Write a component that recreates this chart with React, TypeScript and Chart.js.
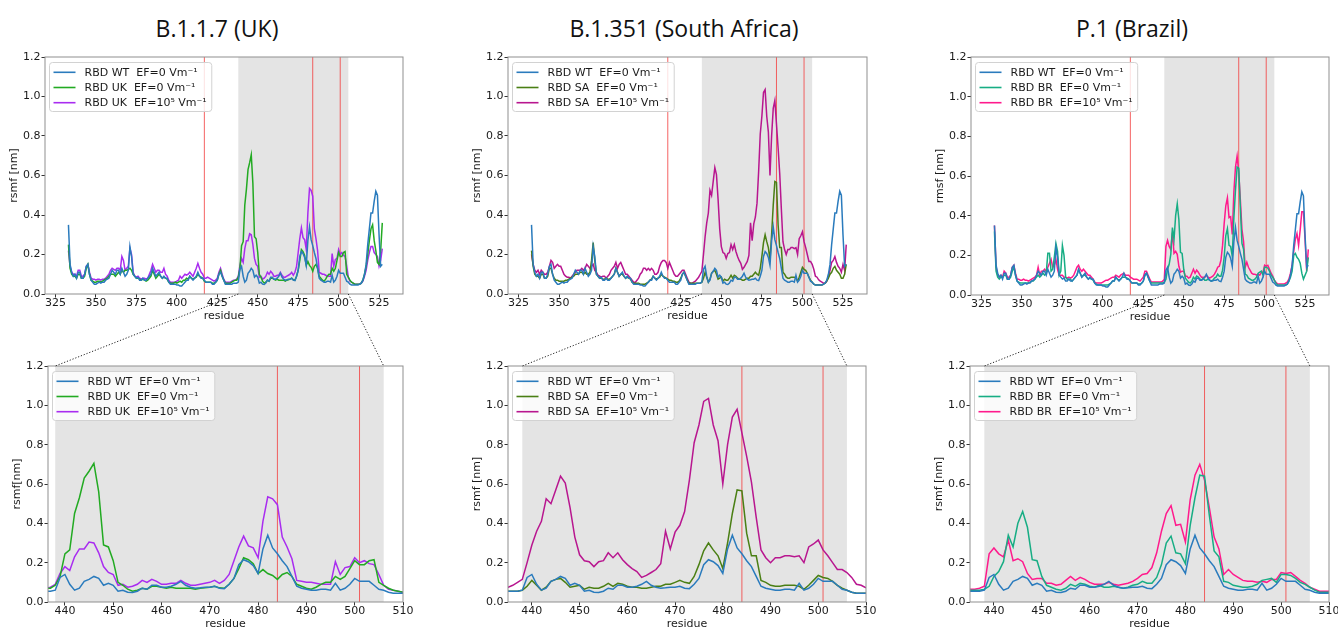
import React, { useEffect, useRef } from 'react';
import { Chart, registerables } from 'chart.js';

Chart.register(...registerables);

// ---------- data (rmsf in nm, one value per residue starting at 333) ----------
const RES_START = 333;

const WT = [
  0.35,0.15,0.11,0.09,0.10,0.08,0.11,0.11,0.08,0.08,
  0.10,0.14,0.15,0.10,0.07,0.06,0.05,0.05,0.055,0.06,
  0.055,0.06,0.06,0.07,0.075,0.08,0.10,0.12,0.11,0.10,
  0.12,0.12,0.10,0.13,0.11,0.09,0.10,0.12,0.24,0.19,
  0.10,0.09,0.08,0.085,0.07,0.07,0.08,0.07,0.07,0.08,
  0.09,0.10,0.13,0.11,0.09,0.10,0.11,0.09,0.08,0.09,
  0.08,0.08,0.06,0.05,0.05,0.05,0.05,0.045,0.045,0.04,
  0.04,0.05,0.06,0.07,0.07,0.09,0.08,0.07,0.08,0.09,
  0.11,0.09,0.08,0.08,0.07,0.06,0.06,0.06,0.06,0.05,
  0.05,0.06,0.07,0.10,0.11,0.09,0.07,0.05,0.05,0.05,
  0.05,0.05,0.055,0.055,0.055,0.06,0.125,0.14,0.09,0.06,
  0.07,0.105,0.115,0.13,0.12,0.085,0.095,0.085,0.055,0.06,
  0.05,0.048,0.055,0.07,0.065,0.085,0.085,0.075,0.075,0.08,
  0.09,0.105,0.085,0.075,0.07,0.072,0.075,0.075,0.08,0.07,
  0.068,0.09,0.12,0.19,0.215,0.205,0.185,0.145,0.27,0.34,
  0.275,0.245,0.21,0.18,0.13,0.08,0.07,0.065,0.06,0.06,
  0.065,0.065,0.06,0.095,0.06,0.07,0.09,0.12,0.105,0.105,
  0.105,0.085,0.065,0.06,0.05,0.045,0.045,0.045,0.045,0.045,
  0.05,0.055,0.07,0.10,0.15,0.25,0.33,0.41,0.41,0.47,
  0.52,0.50,0.30,0.14,0.15,
];

const UK0 = [
  0.25,0.13,0.10,0.09,0.09,0.08,0.10,0.10,0.08,0.08,
  0.09,0.13,0.15,0.10,0.07,0.065,0.06,0.06,0.065,0.065,
  0.06,0.065,0.07,0.075,0.08,0.09,0.10,0.10,0.10,0.09,
  0.10,0.11,0.10,0.12,0.11,0.12,0.12,0.125,0.13,0.12,
  0.10,0.09,0.08,0.08,0.075,0.07,0.075,0.07,0.065,0.07,
  0.08,0.09,0.12,0.10,0.08,0.09,0.10,0.09,0.08,0.085,
  0.08,0.075,0.06,0.055,0.055,0.055,0.06,0.055,0.06,0.065,
  0.06,0.07,0.07,0.08,0.075,0.09,0.08,0.075,0.08,0.085,
  0.10,0.09,0.085,0.08,0.065,0.06,0.06,0.06,0.06,0.055,
  0.055,0.06,0.07,0.10,0.12,0.09,0.07,0.055,0.055,0.055,
  0.055,0.06,0.065,0.07,0.07,0.085,0.13,0.245,0.265,0.45,
  0.53,0.63,0.665,0.705,0.56,0.29,0.28,0.21,0.10,0.085,
  0.065,0.055,0.06,0.07,0.065,0.08,0.08,0.075,0.07,0.075,
  0.07,0.07,0.07,0.07,0.065,0.07,0.072,0.075,0.08,0.072,
  0.07,0.09,0.12,0.17,0.225,0.215,0.195,0.145,0.165,0.145,
  0.135,0.115,0.14,0.15,0.13,0.09,0.08,0.07,0.065,0.075,
  0.09,0.10,0.10,0.13,0.115,0.13,0.17,0.21,0.19,0.19,
  0.21,0.215,0.10,0.085,0.07,0.06,0.055,0.05,0.05,0.05,
  0.05,0.055,0.07,0.10,0.14,0.20,0.27,0.33,0.35,0.27,
  0.22,0.16,0.15,0.22,0.36,
];

const UK5 = [
  0.22,0.14,0.11,0.10,0.10,0.09,0.12,0.12,0.09,0.09,
  0.10,0.14,0.15,0.11,0.08,0.075,0.075,0.07,0.075,0.075,
  0.07,0.075,0.075,0.08,0.09,0.10,0.12,0.13,0.125,0.12,
  0.13,0.13,0.12,0.19,0.17,0.12,0.13,0.14,0.23,0.20,
  0.11,0.09,0.085,0.09,0.08,0.075,0.08,0.08,0.075,0.08,
  0.10,0.12,0.15,0.13,0.11,0.12,0.12,0.11,0.11,0.13,
  0.10,0.09,0.07,0.06,0.06,0.06,0.06,0.065,0.07,0.09,
  0.08,0.09,0.10,0.095,0.10,0.11,0.10,0.09,0.11,0.13,
  0.155,0.13,0.11,0.10,0.08,0.08,0.085,0.08,0.075,0.07,
  0.065,0.07,0.08,0.11,0.13,0.10,0.075,0.06,0.06,0.06,
  0.06,0.065,0.07,0.07,0.075,0.09,0.145,0.18,0.16,0.23,
  0.27,0.27,0.305,0.30,0.25,0.18,0.15,0.14,0.085,0.09,
  0.075,0.08,0.09,0.11,0.10,0.115,0.105,0.09,0.09,0.095,
  0.095,0.11,0.095,0.085,0.085,0.09,0.095,0.10,0.11,0.095,
  0.11,0.14,0.21,0.28,0.335,0.285,0.275,0.225,0.41,0.535,
  0.525,0.495,0.33,0.28,0.22,0.11,0.105,0.10,0.10,0.095,
  0.09,0.09,0.09,0.205,0.14,0.175,0.18,0.225,0.20,0.21,
  0.195,0.19,0.14,0.085,0.065,0.06,0.055,0.05,0.05,0.05,
  0.05,0.055,0.065,0.09,0.12,0.17,0.21,0.24,0.24,0.21,
  0.20,0.19,0.14,0.17,0.23,
];

const SA0 = [
  0.22,0.14,0.10,0.09,0.09,0.08,0.10,0.10,0.08,0.08,
  0.09,0.13,0.13,0.10,0.08,0.07,0.07,0.065,0.065,0.065,
  0.065,0.07,0.07,0.075,0.08,0.085,0.09,0.10,0.10,0.10,
  0.11,0.11,0.10,0.11,0.10,0.10,0.11,0.17,0.26,0.17,
  0.10,0.09,0.08,0.08,0.075,0.075,0.08,0.075,0.075,0.08,
  0.09,0.10,0.13,0.11,0.09,0.10,0.10,0.09,0.08,0.085,
  0.08,0.075,0.06,0.055,0.055,0.055,0.055,0.05,0.05,0.05,
  0.05,0.055,0.06,0.07,0.075,0.09,0.08,0.075,0.08,0.085,
  0.10,0.09,0.085,0.08,0.075,0.07,0.07,0.065,0.065,0.06,
  0.06,0.065,0.08,0.10,0.11,0.09,0.07,0.055,0.055,0.055,
  0.055,0.055,0.055,0.055,0.055,0.06,0.08,0.11,0.085,0.06,
  0.075,0.105,0.115,0.12,0.10,0.075,0.08,0.085,0.065,0.075,
  0.07,0.07,0.08,0.095,0.08,0.095,0.09,0.08,0.075,0.075,
  0.07,0.07,0.075,0.08,0.08,0.09,0.09,0.10,0.11,0.10,
  0.095,0.13,0.19,0.26,0.30,0.265,0.235,0.17,0.30,0.45,
  0.57,0.565,0.35,0.235,0.235,0.11,0.10,0.085,0.08,0.08,
  0.085,0.085,0.085,0.08,0.065,0.085,0.11,0.135,0.125,0.12,
  0.105,0.085,0.07,0.06,0.05,0.045,0.045,0.045,0.045,0.045,
  0.05,0.055,0.065,0.08,0.10,0.11,0.13,0.14,0.12,0.11,
  0.10,0.08,0.08,0.10,0.15,
];

const SA5 = [
  0.20,0.15,0.12,0.11,0.12,0.10,0.12,0.11,0.10,0.10,
  0.11,0.14,0.17,0.16,0.13,0.14,0.15,0.14,0.14,0.12,
  0.10,0.09,0.085,0.085,0.08,0.09,0.10,0.11,0.12,0.12,
  0.12,0.13,0.12,0.13,0.15,0.14,0.13,0.14,0.15,0.12,
  0.11,0.095,0.09,0.085,0.09,0.09,0.08,0.09,0.10,0.12,
  0.13,0.14,0.16,0.13,0.15,0.16,0.14,0.12,0.10,0.10,
  0.09,0.08,0.07,0.06,0.06,0.07,0.08,0.10,0.11,0.13,
  0.13,0.12,0.13,0.12,0.13,0.12,0.10,0.10,0.11,0.14,
  0.16,0.17,0.17,0.16,0.13,0.16,0.14,0.12,0.10,0.09,
  0.09,0.10,0.11,0.12,0.12,0.10,0.08,0.06,0.055,0.055,
  0.06,0.065,0.075,0.085,0.10,0.115,0.20,0.29,0.36,0.41,
  0.525,0.50,0.57,0.64,0.605,0.48,0.33,0.24,0.21,0.205,
  0.18,0.205,0.21,0.25,0.225,0.25,0.215,0.19,0.17,0.155,
  0.125,0.135,0.15,0.165,0.195,0.36,0.27,0.355,0.39,0.46,
  0.62,0.81,0.90,1.02,1.035,0.90,0.82,0.60,0.80,0.94,
  0.98,0.86,0.74,0.61,0.43,0.265,0.225,0.20,0.225,0.225,
  0.235,0.235,0.23,0.235,0.20,0.28,0.295,0.315,0.265,0.235,
  0.20,0.165,0.165,0.15,0.125,0.09,0.085,0.072,0.065,0.06,
  0.055,0.055,0.065,0.09,0.12,0.16,0.17,0.19,0.16,0.14,
  0.13,0.11,0.15,0.12,0.25,
];

const BR0 = [
  0.32,0.12,0.09,0.08,0.09,0.09,0.10,0.10,0.08,0.08,
  0.09,0.12,0.14,0.10,0.07,0.065,0.06,0.06,0.06,0.06,
  0.06,0.06,0.065,0.07,0.07,0.08,0.09,0.10,0.09,0.10,
  0.11,0.10,0.11,0.21,0.21,0.12,0.13,0.19,0.26,0.22,
  0.10,0.12,0.25,0.20,0.09,0.08,0.08,0.08,0.07,0.08,
  0.09,0.10,0.13,0.11,0.09,0.10,0.10,0.09,0.08,0.085,
  0.08,0.075,0.06,0.055,0.05,0.05,0.05,0.05,0.05,0.05,
  0.05,0.055,0.06,0.07,0.07,0.09,0.08,0.075,0.08,0.09,
  0.09,0.09,0.085,0.08,0.07,0.06,0.06,0.06,0.06,0.055,
  0.055,0.06,0.07,0.10,0.11,0.09,0.07,0.06,0.06,0.06,
  0.06,0.06,0.06,0.06,0.06,0.065,0.08,0.13,0.155,0.205,
  0.34,0.28,0.40,0.46,0.38,0.215,0.21,0.13,0.085,0.075,
  0.065,0.06,0.07,0.09,0.08,0.095,0.09,0.08,0.075,0.085,
  0.075,0.075,0.08,0.075,0.07,0.075,0.085,0.09,0.105,0.095,
  0.095,0.125,0.19,0.30,0.335,0.25,0.245,0.195,0.39,0.53,
  0.645,0.64,0.44,0.26,0.23,0.105,0.10,0.085,0.08,0.075,
  0.075,0.08,0.09,0.11,0.115,0.12,0.10,0.14,0.14,0.135,
  0.12,0.10,0.09,0.075,0.06,0.05,0.05,0.05,0.05,0.05,
  0.05,0.055,0.07,0.09,0.12,0.20,0.21,0.19,0.18,0.16,
  0.11,0.08,0.10,0.12,0.19,
];

const BR5 = [
  0.35,0.14,0.10,0.09,0.10,0.09,0.12,0.11,0.09,0.09,
  0.10,0.14,0.15,0.11,0.08,0.08,0.075,0.075,0.08,0.075,
  0.075,0.07,0.075,0.08,0.085,0.09,0.10,0.14,0.10,0.12,
  0.12,0.13,0.12,0.14,0.16,0.18,0.14,0.15,0.18,0.13,
  0.10,0.10,0.10,0.09,0.09,0.085,0.09,0.085,0.09,0.10,
  0.12,0.14,0.15,0.13,0.12,0.13,0.12,0.11,0.10,0.10,
  0.09,0.08,0.065,0.06,0.06,0.06,0.06,0.065,0.07,0.075,
  0.075,0.08,0.085,0.09,0.09,0.10,0.095,0.09,0.10,0.105,
  0.11,0.10,0.10,0.10,0.09,0.085,0.08,0.08,0.08,0.075,
  0.07,0.08,0.09,0.12,0.12,0.10,0.08,0.065,0.065,0.065,
  0.065,0.065,0.065,0.065,0.07,0.08,0.245,0.275,0.245,0.23,
  0.315,0.21,0.22,0.205,0.145,0.115,0.12,0.12,0.095,0.095,
  0.085,0.09,0.11,0.13,0.11,0.125,0.115,0.10,0.09,0.09,
  0.09,0.10,0.09,0.085,0.09,0.095,0.105,0.12,0.14,0.145,
  0.175,0.25,0.36,0.45,0.49,0.39,0.395,0.305,0.52,0.645,
  0.70,0.62,0.48,0.33,0.27,0.14,0.165,0.14,0.125,0.11,
  0.105,0.105,0.10,0.105,0.10,0.115,0.115,0.15,0.145,0.15,
  0.13,0.11,0.095,0.075,0.065,0.055,0.055,0.055,0.055,0.055,
  0.06,0.065,0.08,0.11,0.15,0.22,0.28,0.31,0.25,0.33,
  0.42,0.42,0.28,0.12,0.23,
];

const TOP_X_TICKS = [325, 350, 375, 400, 425, 450, 475, 500, 525];
const BOT_X_TICKS = [440, 450, 460, 470, 480, 490, 500, 510];
const Y_TICKS = [0, 0.2, 0.4, 0.6, 0.8, 1.0, 1.2];
const RBM_SPAN = [438, 506];
const MUTATIONS = [417, 484, 501];

const LBL_WT = 'RBD WT  EF=0 Vm\u207B\u00B9';

// ---------- layout / style ----------
const FONT = '"DejaVu Sans", "Liberation Sans", sans-serif';
const PAD_L = 2, YW = 41, PAD_R = 12, PAD_T = 10, XH = 30, PAD_B = 2;

type Box = { L: number; R: number; T: number; B: number; xmin: number; xmax: number; ylabel: string };
type Panel = {
  title: string; titleX: number;
  series: number[][]; labels: string[]; colors: string[];
  top: Box; bot: Box;
};

const PANELS: Panel[] = [
  {
    title: 'B.1.1.7 (UK)', titleX: 217,
    series: [WT, UK0, UK5],
    labels: [LBL_WT, 'RBD UK  EF=0 Vm\u207B\u00B9', 'RBD UK  EF=10\u2075 Vm\u207B\u00B9'],
    colors: ['#2a7bbd', '#22aa22', '#a92cf0'],
    top: { L: 45, R: 403, T: 57, B: 294, xmin: 318.5, xmax: 539.8, ylabel: 'rsmf [nm]' },
    bot: { L: 48, R: 403, T: 366, B: 602, xmin: 436.5, xmax: 510, ylabel: 'rsmf[nm]' },
  },
  {
    title: 'B.1.351 (South Africa)', titleX: 684,
    series: [WT, SA0, SA5],
    labels: [LBL_WT, 'RBD SA  EF=0 Vm\u207B\u00B9', 'RBD SA  EF=10\u2075 Vm\u207B\u00B9'],
    colors: ['#2a7bbd', '#4a7f14', '#b8168f'],
    top: { L: 508, R: 867, T: 57, B: 294, xmin: 318.5, xmax: 539.8, ylabel: 'rsmf [nm]' },
    bot: { L: 508, R: 866, T: 366, B: 602, xmin: 435, xmax: 510, ylabel: 'rsmf [nm]' },
  },
  {
    title: 'P.1 (Brazil)', titleX: 1132,
    series: [WT, BR0, BR5],
    labels: [LBL_WT, 'RBD BR  EF=0 Vm\u207B\u00B9', 'RBD BR  EF=10\u2075 Vm\u207B\u00B9'],
    colors: ['#2a7bbd', '#17ad84', '#ff1a8c'],
    top: { L: 971, R: 1329, T: 57, B: 295, xmin: 318.5, xmax: 539.8, ylabel: 'rmsf [nm]' },
    bot: { L: 970, R: 1329, T: 366, B: 602, xmin: 435, xmax: 510, ylabel: 'rsmf [nm]' },
  },
];

const canvasGeom = (b: Box) => ({
  left: b.L - PAD_L - YW,
  top: b.T - PAD_T,
  width: b.R - b.L + PAD_L + YW + PAD_R,
  height: b.B - b.T + PAD_T + XH + PAD_B,
});

const decorPlugin = {
  id: 'decor',
  beforeDatasetsDraw(chart: any, _args: any, opts: any) {
    const { ctx, chartArea: a, scales } = chart;
    const x = scales.x;
    ctx.save();
    ctx.beginPath();
    ctx.rect(a.left, a.top, a.right - a.left, a.bottom - a.top);
    ctx.clip();
    const x0 = x.getPixelForValue(opts.span[0]);
    const x1 = x.getPixelForValue(opts.span[1]);
    ctx.fillStyle = '#e4e4e4';
    ctx.fillRect(x0, a.top, x1 - x0, a.bottom - a.top);
    ctx.strokeStyle = 'rgba(242,70,70,0.85)';
    ctx.lineWidth = 1;
    for (const v of opts.vlines) {
      const px = x.getPixelForValue(v);
      if (px < a.left || px > a.right) continue;
      ctx.beginPath();
      ctx.moveTo(px, a.top);
      ctx.lineTo(px, a.bottom);
      ctx.stroke();
    }
    ctx.restore();
  },
  afterDatasetsDraw(chart: any) {
    const { ctx, chartArea: a } = chart;
    ctx.save();
    // frame (all four spines)
    ctx.strokeStyle = '#8f8f8f';
    ctx.lineWidth = 1;
    ctx.strokeRect(a.left, a.top, a.right - a.left, a.bottom - a.top);
    // legend box in the upper left corner
    ctx.font = `11px ${FONT}`;
    const ds = chart.data.datasets;
    const tw = Math.max(...ds.map((d: any) => ctx.measureText(d.label).width));
    const bx = a.left + 4.5, by = a.top + 5.5, bw = 35 + tw + 5, bh = 49;
    ctx.beginPath();
    ctx.roundRect(bx, by, bw, bh, 3);
    ctx.fillStyle = 'rgba(255,255,255,0.82)';
    ctx.fill();
    ctx.strokeStyle = '#d2d2d2';
    ctx.stroke();
    ds.forEach((d: any, i: number) => {
      const cy = by + 9.8 + i * 15.2;
      ctx.strokeStyle = d.borderColor;
      ctx.lineWidth = 1.6;
      ctx.beginPath();
      ctx.moveTo(bx + 4, cy);
      ctx.lineTo(bx + 26, cy);
      ctx.stroke();
      ctx.fillStyle = '#1a1a1a';
      ctx.textBaseline = 'middle';
      ctx.textAlign = 'left';
      ctx.fillText(d.label, bx + 35, cy + 0.5);
    });
    ctx.restore();
  },
};

function makeChart(canvas: HTMLCanvasElement, p: Panel, b: Box, isTop: boolean) {
  const datasets = p.series.map((vals, i) => ({
    label: p.labels[i],
    data: vals.map((v, j) => ({ x: RES_START + j, y: v })),
    borderColor: p.colors[i],
    backgroundColor: p.colors[i],
    borderWidth: 1.5,
    pointRadius: 0,
    tension: 0,
    fill: false,
    clip: 0,
  }));
  const xTicks = isTop ? TOP_X_TICKS : BOT_X_TICKS;
  const tickFont = { family: FONT, size: 11 };
  return new Chart(canvas, {
    type: 'line',
    data: { datasets },
    options: {
      responsive: false,
      animation: false,
      devicePixelRatio: 1,
      events: [],
      layout: { padding: { left: PAD_L, right: PAD_R, top: PAD_T, bottom: PAD_B } },
      plugins: {
        legend: { display: false },
        tooltip: { enabled: false },
        decor: { span: RBM_SPAN, vlines: MUTATIONS },
      } as any,
      scales: {
        x: {
          type: 'linear',
          min: b.xmin,
          max: b.xmax,
          afterBuildTicks: (s: any) => { s.ticks = xTicks.map((v) => ({ value: v })); },
          afterFit: (s: any) => { s.height = XH; },
          ticks: { autoSkip: false, maxRotation: 0, padding: -1, color: '#1a1a1a', font: tickFont, callback: (v: any) => String(v) },
          grid: { display: true, drawOnChartArea: false, drawTicks: true, tickLength: 3.5, color: '#333', tickColor: '#333' },
          border: { display: false },
          title: { display: true, text: 'residue', color: '#1a1a1a', font: tickFont, padding: { top: 0, bottom: 1 } },
        },
        y: {
          type: 'linear',
          min: 0,
          max: 1.2,
          afterBuildTicks: (s: any) => { s.ticks = Y_TICKS.map((v) => ({ value: v })); },
          afterFit: (s: any) => { s.width = YW; },
          ticks: { autoSkip: false, padding: 1, color: '#1a1a1a', font: tickFont, callback: (v: any) => Number(v).toFixed(1) },
          grid: { display: true, drawOnChartArea: false, drawTicks: true, tickLength: 3.5, color: '#333', tickColor: '#333' },
          border: { display: false },
          title: { display: true, text: b.ylabel, color: '#1a1a1a', font: tickFont, padding: { top: 4, bottom: 4 } },
        },
      },
    } as any,
    plugins: [decorPlugin],
  });
}

export default function App() {
  const refs = useRef<(HTMLCanvasElement | null)[]>([]);
  const overlay = useRef<HTMLCanvasElement | null>(null);

  useEffect(() => {
    const charts: Chart[] = [];
    PANELS.forEach((p, i) => {
      charts.push(makeChart(refs.current[2 * i]!, p, p.top, true));
      charts.push(makeChart(refs.current[2 * i + 1]!, p, p.bot, false));
    });
    // dotted connectors from the RBM span on the full view to the zoomed view
    const oc = overlay.current!;
    const ctx = oc.getContext('2d')!;
    ctx.clearRect(0, 0, oc.width, oc.height);
    ctx.save();
    ctx.strokeStyle = '#222';
    ctx.lineWidth = 1;
    ctx.setLineDash([1.2, 1.8]);
    PANELS.forEach((p, i) => {
      const tc: any = charts[2 * i], bc: any = charts[2 * i + 1];
      const tg = canvasGeom(p.top), bg = canvasGeom(p.bot);
      RBM_SPAN.forEach((v) => {
        const x1 = tg.left + tc.scales.x.getPixelForValue(v);
        const y1 = tg.top + tc.chartArea.bottom;
        const x2 = bg.left + bc.scales.x.getPixelForValue(v);
        const y2 = bg.top + bc.chartArea.top;
        ctx.beginPath();
        ctx.moveTo(x1, y1);
        ctx.lineTo(x2, y2);
        ctx.stroke();
      });
    });
    ctx.restore();
    return () => charts.forEach((c) => c.destroy());
  }, []);

  const canvases: React.ReactNode[] = [];
  PANELS.forEach((p, i) => {
    [p.top, p.bot].forEach((b, k) => {
      const g = canvasGeom(b);
      canvases.push(
        <canvas
          key={`${i}-${k}`}
          ref={(el) => { refs.current[2 * i + k] = el; }}
          width={g.width}
          height={g.height}
          style={{ position: 'absolute', left: g.left, top: g.top, width: g.width, height: g.height }}
        />
      );
    });
  });

  return (
    <div style={{ position: 'absolute', left: 0, top: 0, width: 1338, height: 628, overflow: 'hidden', background: '#fff' }}>
      {PANELS.map((p) => (
        <div
          key={p.title}
          style={{
            position: 'absolute', left: p.titleX, top: 12, transform: 'translateX(-50%)',
            fontFamily: '"Open Sans", "Noto Sans", sans-serif', fontSize: 23, lineHeight: '32px',
            color: '#111', whiteSpace: 'nowrap',
          }}
        >
          {p.title}
        </div>
      ))}
      {canvases}
      <canvas
        ref={overlay}
        width={1338}
        height={628}
        style={{ position: 'absolute', left: 0, top: 0, width: 1338, height: 628, pointerEvents: 'none' }}
      />
    </div>
  );
}
